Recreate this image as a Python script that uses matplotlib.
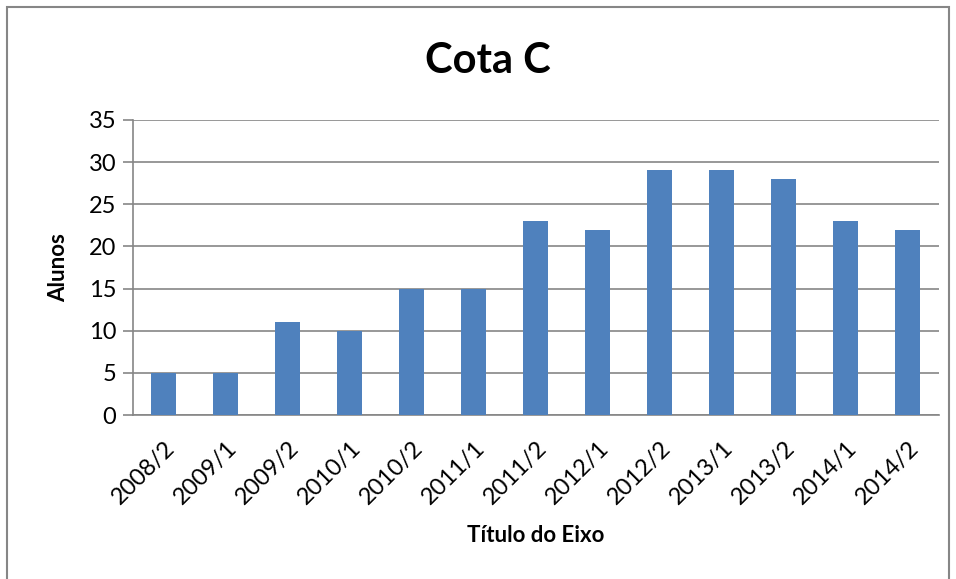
import matplotlib.pyplot as plt
from matplotlib.patches import Rectangle

semestres = ["2008/2", "2009/1", "2009/2", "2010/1", "2010/2", "2011/1", "2011/2",
             "2012/1", "2012/2", "2013/1", "2013/2", "2014/1", "2014/2"]
alunos = [5, 5, 11, 10, 15, 15, 23, 22, 29, 29, 28, 23, 22]
y_ticks = [0, 5, 10, 15, 20, 25, 30, 35]

plt.rcParams['font.family'] = ['Lato', 'DejaVu Sans']

fig = plt.figure(figsize=(9.56, 5.79), dpi=100)
ax = fig.add_axes([0.139, 0.283, 0.843, 0.51])

grey = "#868686"
x = range(len(semestres))
ax.bar(x, alunos, width=0.4, color="#4F81BD", zorder=3)

ax.set_xlim(-0.5, len(semestres) - 0.5)
ax.set_ylim(0, 35)
ax.set_yticks(y_ticks)
ax.set_xticks(list(x))
ax.set_xticklabels(semestres, rotation=45, ha="right", rotation_mode="anchor")
ax.grid(axis="y", color=grey, linewidth=1.2, zorder=0)

for side in ["top", "right"]:
    ax.spines[side].set_visible(False)
for side in ["left", "bottom"]:
    ax.spines[side].set_color(grey)
    ax.spines[side].set_linewidth(1.2)

ax.tick_params(axis="y", length=7, width=1.2, color=grey, labelsize=17, pad=5)
ax.tick_params(axis="x", length=0, labelsize=17, pad=16)

ax.set_ylabel("Alunos", fontsize=16, fontweight="bold", labelpad=14)
ax.set_xlabel("Título do Eixo", fontsize=16, fontweight="bold", labelpad=12)
fig.text(0.51, 0.895, "Cota C", ha="center", va="center", fontsize=30, fontweight="bold")

# outer chart border
fig.patches.append(Rectangle((7 / 956, -0.01), 942 / 956, 1 - 7 / 579 + 0.01,
                             transform=fig.transFigure, fill=False,
                             edgecolor=grey, linewidth=1.5))

fig.savefig("out.png", dpi=100)
